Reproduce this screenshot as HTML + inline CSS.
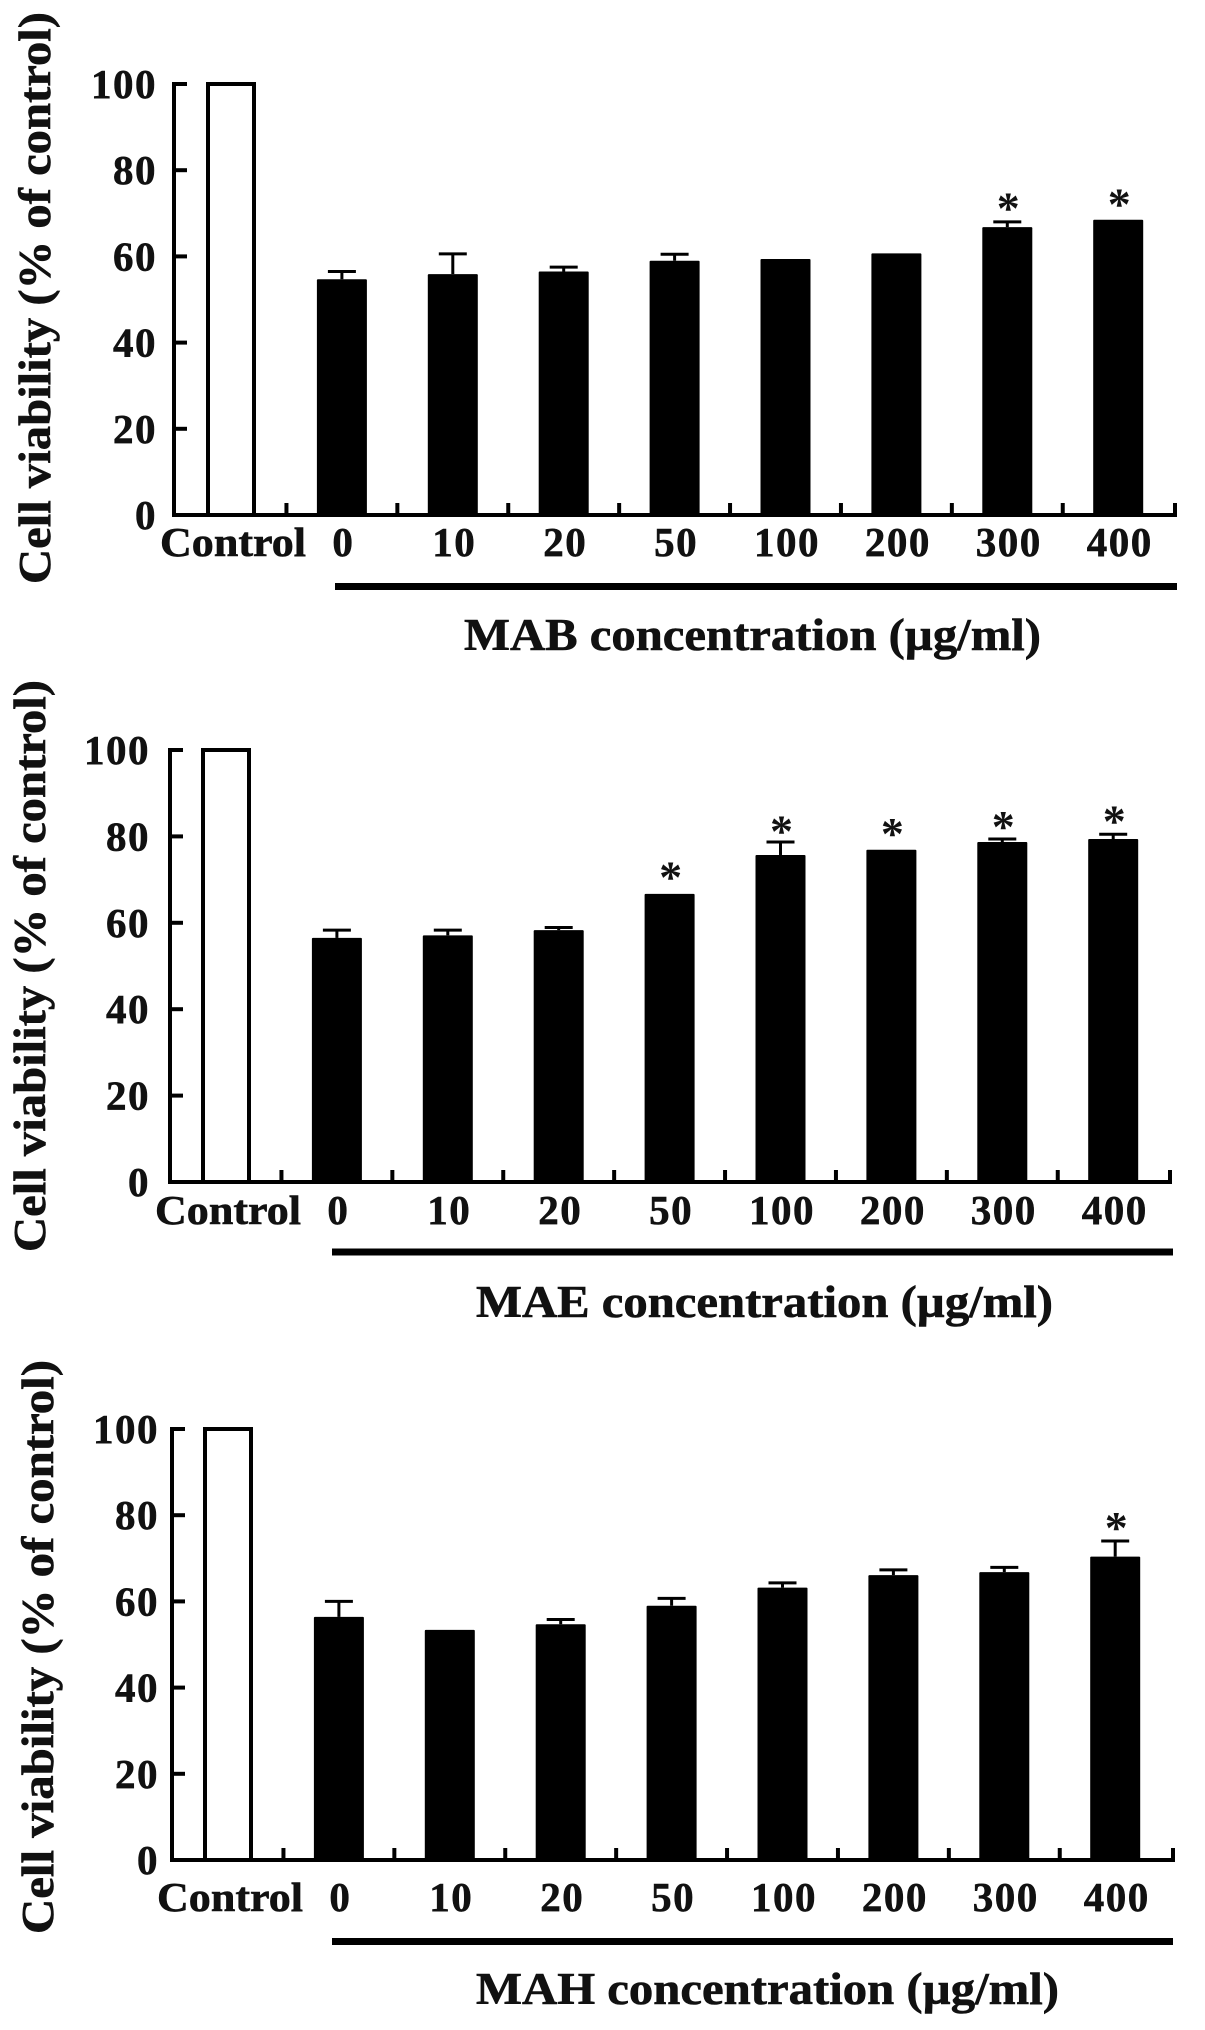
<!DOCTYPE html>
<html lang="en">
<head>
<meta charset="utf-8">
<title>Cell viability by extract concentration</title>
<style>
  html, body { margin: 0; padding: 0; background: #fff; }
  svg { display: block; }
  text { font-family: "Liberation Serif", serif; font-weight: bold; fill: #111; stroke: #111; stroke-width: 0.6px; }
  text.star { stroke: none; }
  .axis-title { font-size: 45px; }
</style>
</head>
<body>
<svg id="figure" xmlns="http://www.w3.org/2000/svg" width="1205" height="2030" viewBox="0 0 1205 2030">
  <rect x="0" y="0" width="1205" height="2030" fill="#fff"/>

  <g id="panel-mab">
    <text class="axis-title" transform="translate(50,584) rotate(-90)" textLength="572" lengthAdjust="spacingAndGlyphs">Cell viability (% of control)</text>
    <rect x="335" y="583" width="842" height="7" fill="#000"/>
    <text class="axis-title" x="464" y="650" textLength="577" lengthAdjust="spacingAndGlyphs">MAB concentration (µg/ml)</text>
  </g>

  <g id="panel-mae">
    <text class="axis-title" transform="translate(45,1252) rotate(-90)" textLength="572" lengthAdjust="spacingAndGlyphs">Cell viability (% of control)</text>
    <rect x="332" y="1248.5" width="841" height="7" fill="#000"/>
    <text class="axis-title" x="476" y="1317" textLength="577" lengthAdjust="spacingAndGlyphs">MAE concentration (µg/ml)</text>
  </g>

  <g id="panel-mah">
    <text class="axis-title" transform="translate(53,1934) rotate(-90)" textLength="574" lengthAdjust="spacingAndGlyphs">Cell viability (% of control)</text>
    <rect x="332" y="1938" width="841" height="7" fill="#000"/>
    <text class="axis-title" x="476" y="2004" textLength="583" lengthAdjust="spacingAndGlyphs">MAH concentration (µg/ml)</text>
  </g>
</svg>

<script>
const categories = ["Control", "0", "10", "20", "50", "100", "200", "300", "400"];
const yTickValues = [0, 20, 40, 60, 80, 100];

const mabValues = [100, 54.7, 55.9, 56.5, 59, 59.4, 60.7, 66.8, 68.5];
const mabErrors = [0, 1.8, 4.7, 1, 1.5, 0, 0, 1.2, 0];
const mabStarLevels = [null, null, null, null, null, null, null, 72.5, 73.4];

const maeValues = [100, 56.5, 57.1, 58.3, 66.7, 75.7, 76.9, 78.7, 79.4];
const maeErrors = [0, 1.8, 1.2, 0.6, 0, 3, 0, 0.7, 1.1];
const maeStarLevels = [null, null, null, null, 71.9, 82.5, 82, 83.6, 84.8];

const mahValues = [100, 56.4, 53.4, 54.7, 59, 63.2, 66.1, 66.8, 70.4];
const mahErrors = [0, 3.6, 0, 1.1, 1.7, 1.1, 1.2, 1.1, 3.6];
const mahStarLevels = [null, null, null, null, null, null, null, null, 78.4];

const SVG_NS = "http://www.w3.org/2000/svg";
const BAR_WIDTH = 50;
const BAND_STEP = 110.9;

function makeShape(tag, attrs) {
  const el = document.createElementNS(SVG_NS, tag);
  for (const key in attrs) el.setAttribute(key, attrs[key]);
  return el;
}

function drawPanel(groupId, opts, values, errors, stars) {
  const group = document.getElementById(groupId);
  const yScale = v => opts.y0 - (v / 100) * (opts.y0 - opts.y100);
  const xScale = i => opts.firstCenter + i * BAND_STEP;

  // Axis lines
  const yAxis = makeShape("line", { x1: opts.axisX, x2: opts.axisX, y1: opts.y100 - 2, y2: opts.y0 + 2, stroke: "#000", "stroke-width": 4 });
  
  
  group.appendChild(yAxis);

  const xAxis = makeShape("line", { x1: opts.axisX - 2, x2: opts.axisEnd + 2, y1: opts.y0, y2: opts.y0, stroke: "#000", "stroke-width": 4 });
  
  
  group.appendChild(xAxis);

  // Y ticks and labels
  yTickValues.forEach(v => {
    if (v > 0) {
      const tick = makeShape("line", { x1: opts.axisX, x2: opts.axisX + 13, y1: yScale(v), y2: yScale(v), stroke: "#000", "stroke-width": 4 });
      
      
      group.appendChild(tick);
    }
    const label = makeShape("text", { x: opts.labelX, y: yScale(v) + 14, "text-anchor": "end", "font-size": 41, "letter-spacing": 1.5 });
    label.textContent = String(v);
    
    
    group.appendChild(label);
  });

  // X ticks sit midway between bars, starting after the control bar
  categories.forEach((c, i) => {
    const tickX = i === categories.length - 1 ? opts.axisEnd : xScale(i) + BAND_STEP / 2;
    const tick = makeShape("line", { x1: tickX, x2: tickX, y1: opts.y0, y2: opts.y0 - 12, stroke: "#000", "stroke-width": 4 });
    
    
    group.appendChild(tick);
  });

  // Bars, error bars, significance stars and category labels
  categories.forEach((c, i) => {
    const cx = xScale(i);
    const top = yScale(values[i]);
    let bar;
    if (i === 0) {
      bar = makeShape("rect", { x: cx - BAR_WIDTH / 2 + 2, y: top, width: BAR_WIDTH - 4, height: opts.y0 - top, fill: "#fff", stroke: "#000", "stroke-width": 4 });
      
    } else {
      bar = makeShape("rect", { x: cx - BAR_WIDTH / 2, y: top, width: BAR_WIDTH, height: opts.y0 - top, fill: "#000", rx: 1 });
      
    }
    
    group.appendChild(bar);

    if (errors[i] > 0) {
      const errTop = yScale(values[i] + errors[i]);
      const stem = makeShape("line", { x1: cx, x2: cx, y1: top, y2: errTop, stroke: "#000", "stroke-width": 3 });
      
      
      group.appendChild(stem);

      const cap = makeShape("line", { x1: cx - 14, x2: cx + 14, y1: errTop, y2: errTop, stroke: "#000", "stroke-width": 3 });
      
      
      group.appendChild(cap);
    }

    if (stars[i] !== null) {
      const star = makeShape("text", { x: cx + 1, y: yScale(stars[i]) + 21, "text-anchor": "middle", "font-size": 46, class: "star" });
      star.textContent = "*";
      
      
      group.appendChild(star);
    }

    const label = makeShape("text", { x: cx + (i === 0 ? 2 : 1.5), y: opts.tickBaseline, "text-anchor": "middle", "font-size": 41 });
    if (i === 0) {
      label.setAttribute("textLength", 146);
      label.setAttribute("lengthAdjust", "spacingAndGlyphs");
    } else {
      label.setAttribute("letter-spacing", 1.5);
    }
    label.textContent = c;
    
    
    group.appendChild(label);
  });
}

drawPanel("panel-mab", { axisX: 174, axisEnd: 1175, y0: 515, y100: 84, firstCenter: 231, labelX: 157, tickBaseline: 556 }, mabValues, mabErrors, mabStarLevels);
drawPanel("panel-mae", { axisX: 170, axisEnd: 1170, y0: 1182, y100: 750, firstCenter: 226, labelX: 150, tickBaseline: 1224 }, maeValues, maeErrors, maeStarLevels);
drawPanel("panel-mah", { axisX: 172, axisEnd: 1173, y0: 1860, y100: 1429, firstCenter: 228, labelX: 159, tickBaseline: 1911 }, mahValues, mahErrors, mahStarLevels);
</script>
</body>
</html>
